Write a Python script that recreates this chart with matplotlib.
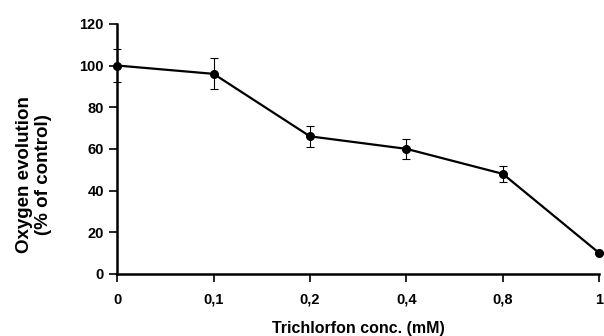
import matplotlib
matplotlib.use("Agg")
import matplotlib.pyplot as plt

categories = ["0", "0,1", "0,2", "0,4", "0,8", "1"]
values = [100, 96, 66, 60, 48, 10]
errors = [8, 7.5, 5, 4.8, 3.8, 0.5]
y_ticks = [0, 20, 40, 60, 80, 100, 120]

plt.rcParams['font.family'] = ['Liberation Sans', 'DejaVu Sans']
plt.rcParams['font.weight'] = 'bold'

fig = plt.figure(figsize=(6.04, 3.36), dpi=100)
ax = fig.add_axes([0.194, 0.185, 0.798, 0.744])

x = list(range(len(categories)))
ax.errorbar(x, values, yerr=errors, color='black', lw=1.6, marker='o', ms=5.5,
            ecolor='black', elinewidth=0.8, capsize=3, capthick=0.8, clip_on=False, zorder=3)

ax.set_xlim(0, len(categories) - 1)
ax.set_ylim(0, 120)
ax.set_xticks(x)
ax.set_xticklabels(categories, fontsize=10.5, fontweight='bold')
ax.set_yticks(y_ticks)
ax.set_yticklabels([str(t) for t in y_ticks], fontsize=10.5, fontweight='bold')

for s in ['top', 'right']:
    ax.spines[s].set_visible(False)
for s in ['left', 'bottom']:
    ax.spines[s].set_linewidth(1.8)
ax.tick_params(axis='y', direction='out', length=5.5, width=1.2, pad=4)
ax.tick_params(axis='x', direction='out', length=5.5, width=1.2, pad=8)

ax.set_xlabel("Trichlorfon conc. (mM)", fontsize=11.5, fontweight='bold')
ax.xaxis.set_label_coords(0.5, -0.188)
ax.set_ylabel("Oxygen evolution\n(% of control)", fontsize=13.5, fontweight='bold', linespacing=1.15)
ax.yaxis.set_label_coords(-0.135, 0.396)

fig.savefig("out.png", dpi=100)
